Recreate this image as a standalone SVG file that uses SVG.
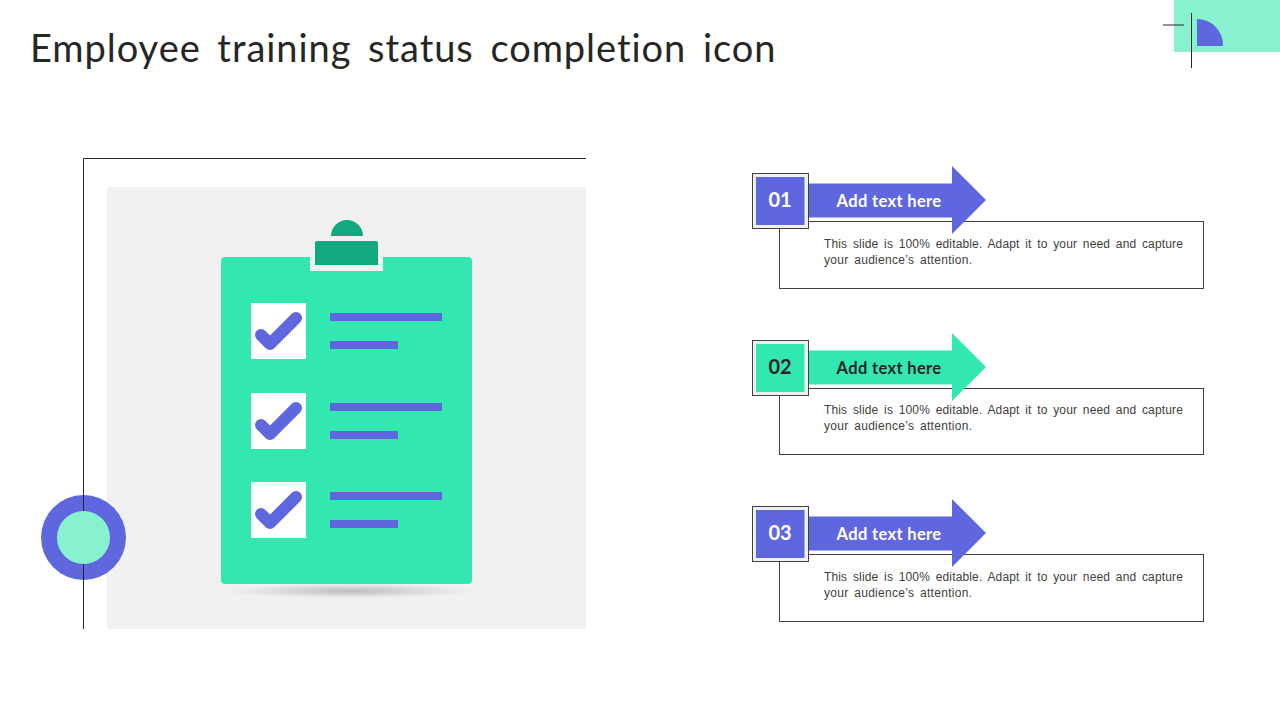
<svg xmlns="http://www.w3.org/2000/svg" width="1280" height="720" viewBox="0 0 1280 720">
<style>
.sans{font-family:"Liberation Sans",Arial,sans-serif}
.head{font-family:Lato,"Liberation Sans",sans-serif}
.title{font-size:38px;font-weight:400;fill:#262626;letter-spacing:.95px;word-spacing:6px}
.num{font-size:20px;font-weight:700;text-anchor:middle}
.lab{font-size:16.500px;font-weight:700;text-anchor:middle;letter-spacing:.35px}
.body{font-size:12px;fill:#404040;letter-spacing:.15px;word-spacing:2.200px}
.body2{font-size:12px;fill:#404040;letter-spacing:.3px;word-spacing:2px}
.frame{fill:#f0f0f0;stroke:#404040;stroke-width:1}
.tbox{fill:#fff;stroke:#404040;stroke-width:1}
.ln{stroke:#262626;stroke-width:1;fill:none}
.bar{fill:#5f67df}
.chk{fill:none;stroke:#5f67df;stroke-width:12;stroke-linecap:round;stroke-linejoin:round}
</style>
<defs>
<radialGradient id="sh" cx=".5" cy=".5" r=".5"><stop offset="0" stop-color="#bdbdbd"/><stop offset=".5" stop-color="#dadada"/><stop offset=".85" stop-color="#ececec"/><stop offset="1" stop-color="#f0f0f0" stop-opacity="0"/></radialGradient>
<g id="item"><rect x="251" y="303" width="55" height="56" fill="#fff"/><polyline class="chk" points="261,335 270,344 296,318"/><rect class="bar" x="330" y="313" width="112" height="8"/><rect class="bar" x="330" y="341" width="68" height="8"/></g>
</defs>
<rect width="1280" height="720" fill="#fff"/>
<text class="head title" x="30" y="62">Employee training status completion icon</text>
<g id="corner">
<rect x="1174" y="0" width="106" height="52" fill="#88f2d0"/>
<path d="M1197 19A26 26 0 0 1 1223 46H1197Z" fill="#5f67df"/>
<path class="ln" d="M1163 25H1184M1191.500 13V68"/>
</g>
<g id="panel">
<rect x="107" y="187" width="479" height="442" fill="#f1f1f1"/>
<path class="ln" d="M586 158.500H83.500V629"/>
</g>
<g id="ring"><circle cx="83.500" cy="537.500" r="42.500" fill="#5f67df"/><circle cx="83.500" cy="537.500" r="26.500" fill="#88f2d0"/></g>
<path class="ln" d="M83.500 495V511M83.500 564V580"/>
<g id="clipboard">
<ellipse cx="350" cy="591" rx="132" ry="8" fill="url(#sh)"/>
<rect x="221" y="257" width="251" height="327" rx="4" fill="#32e8b0"/>
<rect x="310" y="250" width="73" height="21" fill="#f1f1f1"/>
<path d="M331 236A16 16 0 0 1 363 236Z" fill="#12a97e"/>
<path d="M315 265V243Q315 241 317 241H376Q378 241 378 243V265Z" fill="#12a97e"/>
<use href="#item"/><use href="#item" y="90"/><use href="#item" y="179"/>
</g>
<g id="step1">
<rect class="tbox" x="779.500" y="221.500" width="424" height="67"/>
<path d="M808 183.500H952V166L986 200L952 234V217.500H808Z" fill="#5f67df"/>
<rect class="frame" x="752.500" y="173.500" width="56" height="55"/>
<rect x="756" y="177" width="48.500" height="48" fill="#5f67df"/>
<text class="head num" x="780" y="207" fill="#fff">01</text>
<text class="head lab" x="889" y="207" fill="#fff">Add text here</text>
<text class="sans body" x="824" y="248">This slide is 100% editable. Adapt it to your need and capture</text>
<text class="sans body2" x="824" y="264">your audience’s attention.</text>
</g>
<g id="step2">
<rect class="tbox" x="779.500" y="388.500" width="424" height="66"/>
<path d="M808 350.500H952V333L986 367L952 401V384.500H808Z" fill="#32e8b0"/>
<rect class="frame" x="752.500" y="340.500" width="56" height="55"/>
<rect x="756" y="344" width="48.500" height="48" fill="#32e8b0"/>
<text class="head num" x="780" y="374" fill="#262626">02</text>
<text class="head lab" x="889" y="374" fill="#262626">Add text here</text>
<text class="sans body" x="824" y="414">This slide is 100% editable. Adapt it to your need and capture</text>
<text class="sans body2" x="824" y="430">your audience’s attention.</text>
</g>
<g id="step3">
<rect class="tbox" x="779.500" y="554.500" width="424" height="67"/>
<path d="M808 516.500H952V499L986 533L952 567V550.500H808Z" fill="#5f67df"/>
<rect class="frame" x="752.500" y="506.500" width="56" height="55"/>
<rect x="756" y="510" width="48.500" height="48" fill="#5f67df"/>
<text class="head num" x="780" y="540" fill="#fff">03</text>
<text class="head lab" x="889" y="540" fill="#fff">Add text here</text>
<text class="sans body" x="824" y="581">This slide is 100% editable. Adapt it to your need and capture</text>
<text class="sans body2" x="824" y="597">your audience’s attention.</text>
</g>
</svg>
